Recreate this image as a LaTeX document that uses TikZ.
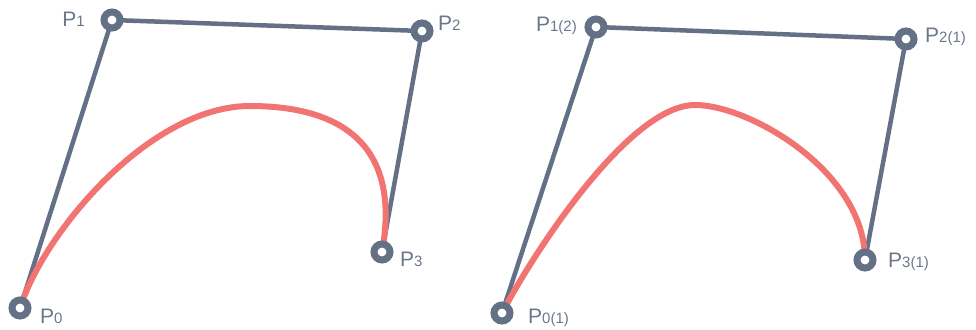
\documentclass[tikz,border=0pt]{standalone}
\usepackage{fontspec}
\setmainfont{Liberation Sans}
\definecolor{slate}{HTML}{637086}
\definecolor{labelc}{HTML}{6C778C}
\definecolor{curvec}{HTML}{F27472}
\newcommand{\plab}[2]{P{\fontsize{15}{15}\selectfont #1}}
\tikzset{
  handle/.style={draw=slate, line width=4.5pt},
  curveline/.style={draw=curvec, line width=6pt, line cap=round},
  ctrlpt/.style={circle, draw=slate, line width=7pt, fill=white, minimum size=16pt, inner sep=0pt},
  ptlabel/.style={text=labelc, inner sep=0pt, font=\fontsize{21}{21}\selectfont}
}
\begin{document}
\begin{tikzpicture}[x=1pt,y=-1pt]
\useasboundingbox (0,0) rectangle (976,329);
% left
\coordinate (a0) at (20,308);
\coordinate (a1) at (112,20);
\coordinate (a2) at (422,31);
\coordinate (a3) at (382,252);
% right
\coordinate (b0) at (502,313);
\coordinate (b1) at (596,27);
\coordinate (b2) at (906,39);
\coordinate (b3) at (865,260);

\draw[handle] (a0) -- (a1) -- (a2) -- (a3);
\draw[handle] (b0) -- (b1) -- (b2) -- (b3);

\draw[curveline] (a0) .. controls (44,232) and (150,106) .. (250,106)
                      .. controls (340,106) and (401.6,143.8) .. (a3);
\draw[curveline] (b0) .. controls (535,250) and (630,105) .. (695,105)
                      .. controls (750,105) and (865,172) .. (b3);

\foreach \n in {a0,a1,a2,a3,b0,b1,b2,b3}{\node[ctrlpt] (n\n) at (\n) {};}

\node[ptlabel, anchor=base east] (l1) at (85,27) {\plab{1}{}};
\node[ptlabel, anchor=base west] (l2) at (438,31) {\plab{2}{}};
\node[ptlabel, anchor=base west] (l0) at (40,323) {\plab{0}{}};
\node[ptlabel, anchor=base west] (l3) at (400,266) {\plab{3}{}};
\node[ptlabel, anchor=base east] (m1) at (577,32) {\plab{1(2)}{}};
\node[ptlabel, anchor=base west] (m2) at (925,43) {\plab{2(1)}{}};
\node[ptlabel, anchor=base west] (m0) at (528,323) {\plab{0(1)}{}};
\node[ptlabel, anchor=base west] (m3) at (888,267) {\plab{3(1)}{}};
\end{tikzpicture}
\end{document}
